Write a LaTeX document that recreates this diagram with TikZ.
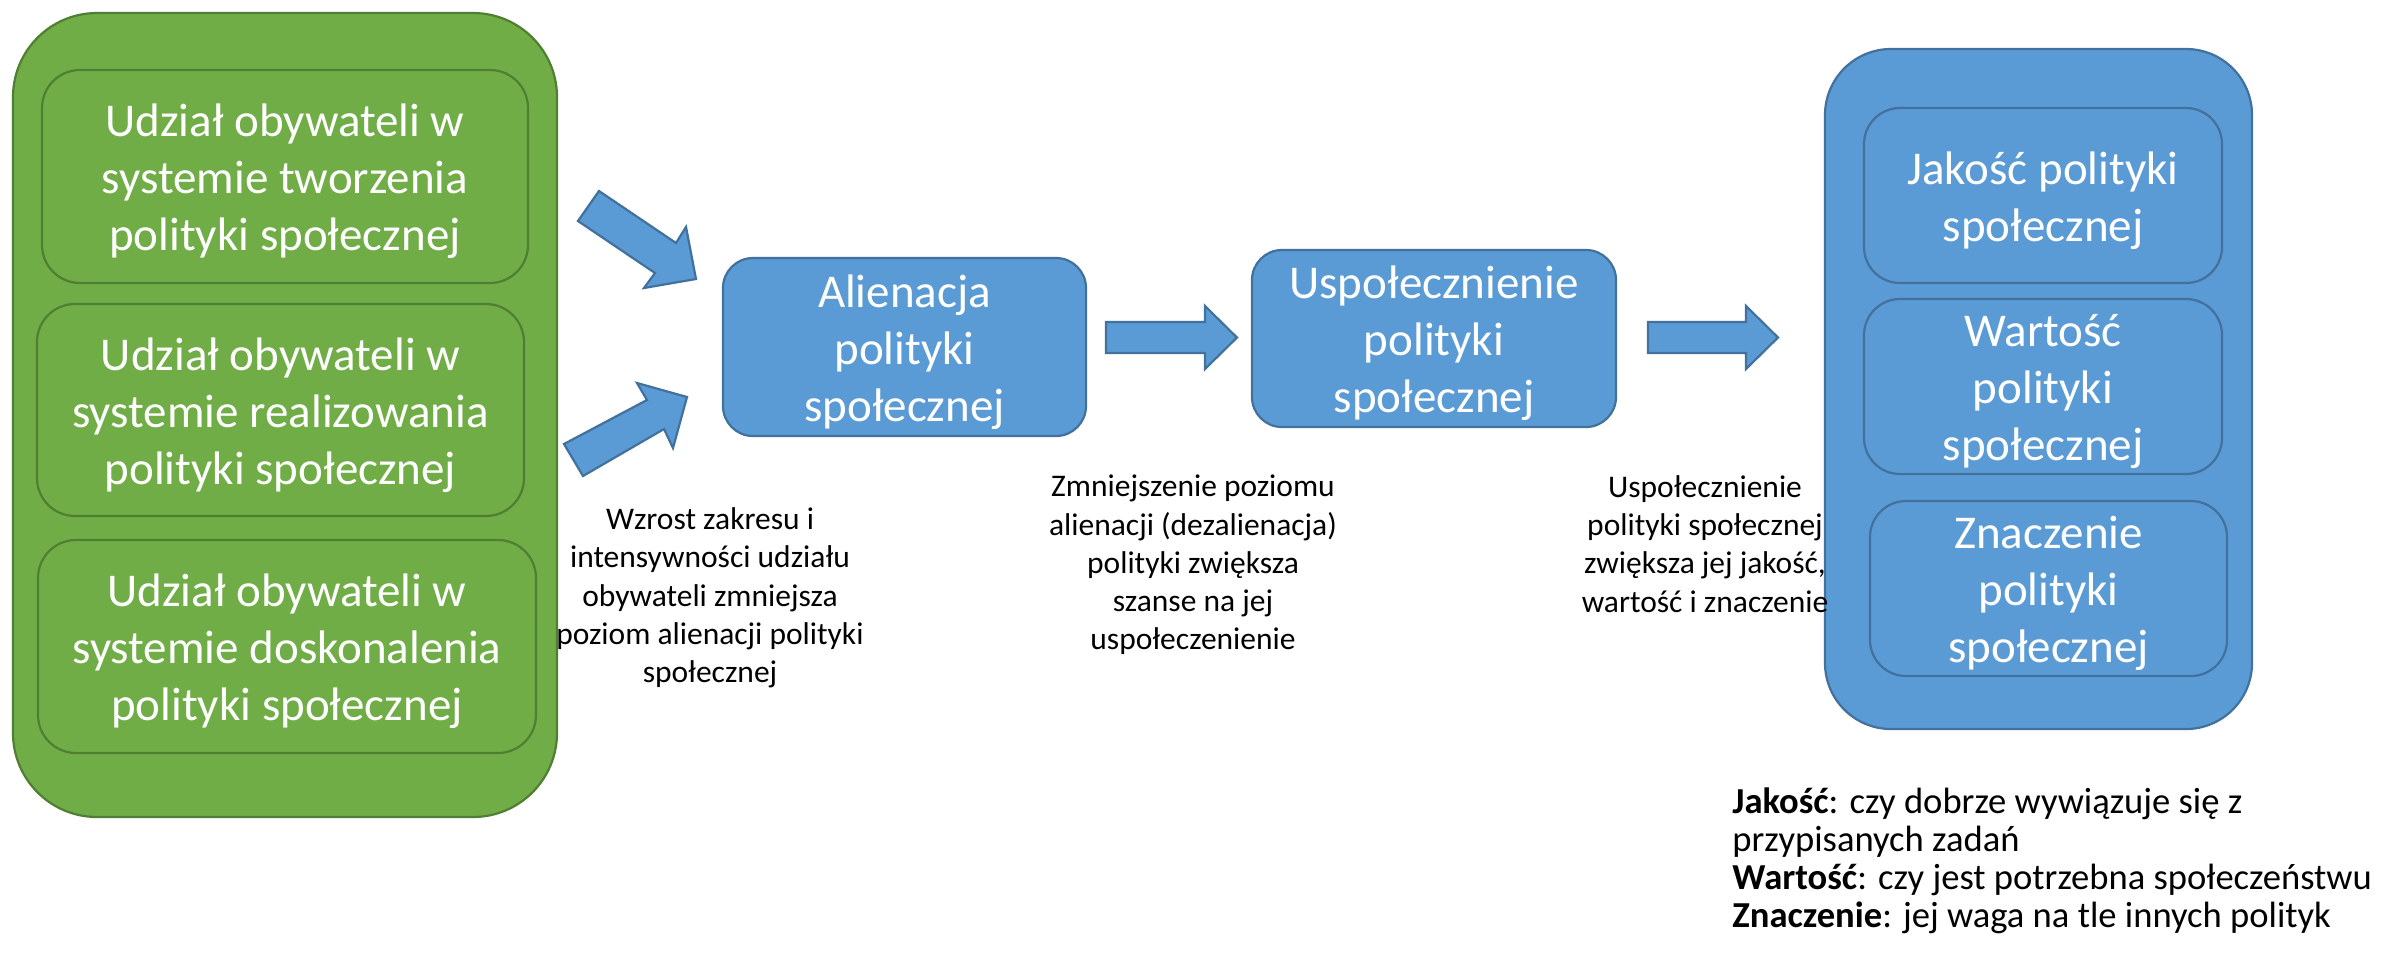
\documentclass[tikz,border=0pt]{standalone}
\usepackage{fontspec}
\setmainfont{Carlito}
\definecolor{gfill}{HTML}{70AD47}
\definecolor{gline}{HTML}{507E32}
\definecolor{bfill}{HTML}{5B9BD5}
\definecolor{bline}{HTML}{41719C}
\begin{document}
\begin{tikzpicture}[x=0.5pt,y=-0.5pt,
  sz/.style 2 args={minimum width=#1*0.5pt, minimum height=#2*0.5pt},
  shape frame/.style={line width=1.1pt, inner sep=0pt},
  gout/.style={shape frame, fill=gfill, draw=gline, rounded corners=42pt},
  gin/.style={shape frame, fill=gfill, draw=gline, rounded corners=19pt},
  bout/.style={shape frame, fill=bfill, draw=bline, rounded corners=33pt},
  bin/.style={shape frame, fill=bfill, draw=bline, rounded corners=18pt},
  boxtext/.style={inner sep=0pt, align=center, text=white, yshift=-2.5pt,
    font=\fontsize{23.5}{28.5}\selectfont},
  blockarrow/.style={fill=bfill, draw=bline, line width=1.1pt, line join=miter},
  lab/.style={inner sep=0pt, align=center, text=black, font=\fontsize{15.75}{19.15}\selectfont},
  leg/.style={inner sep=0pt, align=left, text=black, font=\fontsize{18.3}{19}\selectfont}
]
\useasboundingbox (0,0) rectangle (2389,955);
\fill[white] (0,0) rectangle (2389,955);

% left green group
\node[gout, sz={544}{804}] (gouter) at (285,415) {};
\node[gin, sz={486}{213}] (g1) at (285,176.5) {};
\node[boxtext] (g1t) at (g1.center) {Udział obywateli w\\systemie tworzenia\\polityki społecznej};
\node[gin, sz={487}{212}] (g2) at (280.5,410) {};
\node[boxtext] (g2t) at (g2.center) {Udział obywateli w\\systemie realizowania\\polityki społecznej};
\node[gin, sz={498}{213}] (g3) at (287,646.5) {};
\node[boxtext] (g3t) at (g3.center) {Udział obywateli w\\systemie doskonalenia\\polityki społecznej};

% middle boxes
\node[bin, sz={363}{178}, rounded corners=15pt] (alien) at (904.5,347) {};
\node[boxtext] (alient) at (alien.center) {Alienacja\\polityki\\społecznej};
\node[bin, sz={364}{177}, rounded corners=15pt] (usp) at (1434,338.5) {};
\node[boxtext] (uspt) at (usp.center) {Uspołecznienie\\polityki\\społecznej};

% right blue group
\node[bout, sz={427}{680}] (bouter) at (2038.5,389) {};
\node[bin, sz={358}{175}] (jak) at (2043,195.5) {};
\node[boxtext] (jakt) at (jak.center) {Jakość polityki\\społecznej};
\node[bin, sz={358}{175}] (war) at (2043,386.5) {};
\node[boxtext] (wart) at (war.center) {Wartość\\polityki\\społecznej};
\node[bin, sz={357}{175}] (zna) at (2048.5,588.5) {};
\node[boxtext] (znat) at (zna.center) {Znaczenie\\polityki\\społecznej};

% block arrows
\draw[blockarrow] (599,191) -- (676,243) -- (686,227) -- (696,279) -- (644,288) -- (655,273) -- (578,221) -- cycle;
\draw[blockarrow] (564,444) -- (647,400) -- (637,383) -- (687,397) -- (673,448) -- (664,429) -- (583,476) -- cycle;
\draw[blockarrow] (1106,322) -- (1205,322) -- (1205,306) -- (1237,337.5) -- (1205,369) -- (1205,353) -- (1106,353) -- cycle;
\draw[blockarrow] (1648,322) -- (1746,322) -- (1746,306) -- (1778,337.5) -- (1746,369) -- (1746,353) -- (1648,353) -- cycle;

% labels
\node[lab] (l1) at (710,598) {Wzrost zakresu i\\intensywności udziału\\obywateli zmniejsza\\poziom alienacji polityki\\społecznej};
\node[lab] (l2) at (1193,565) {Zmniejszenie poziomu\\alienacji (dezalienacja)\\polityki zwiększa\\szanse na jej\\uspołeczenienie};
\node[lab] (l3) at (1705,544) {Uspołecznienie\\polityki społecznej\\zwiększa jej jakość,\\wartość i znaczenie};

% legend
\node[leg, anchor=west] (legend) at (1732,861) {\textbf{Jakość}: czy dobrze wywiązuje się z\\przypisanych zadań\\\textbf{Wartość}: czy jest potrzebna społeczeństwu\\\textbf{Znaczenie}: jej waga na tle innych polityk};
\end{tikzpicture}
\end{document}
